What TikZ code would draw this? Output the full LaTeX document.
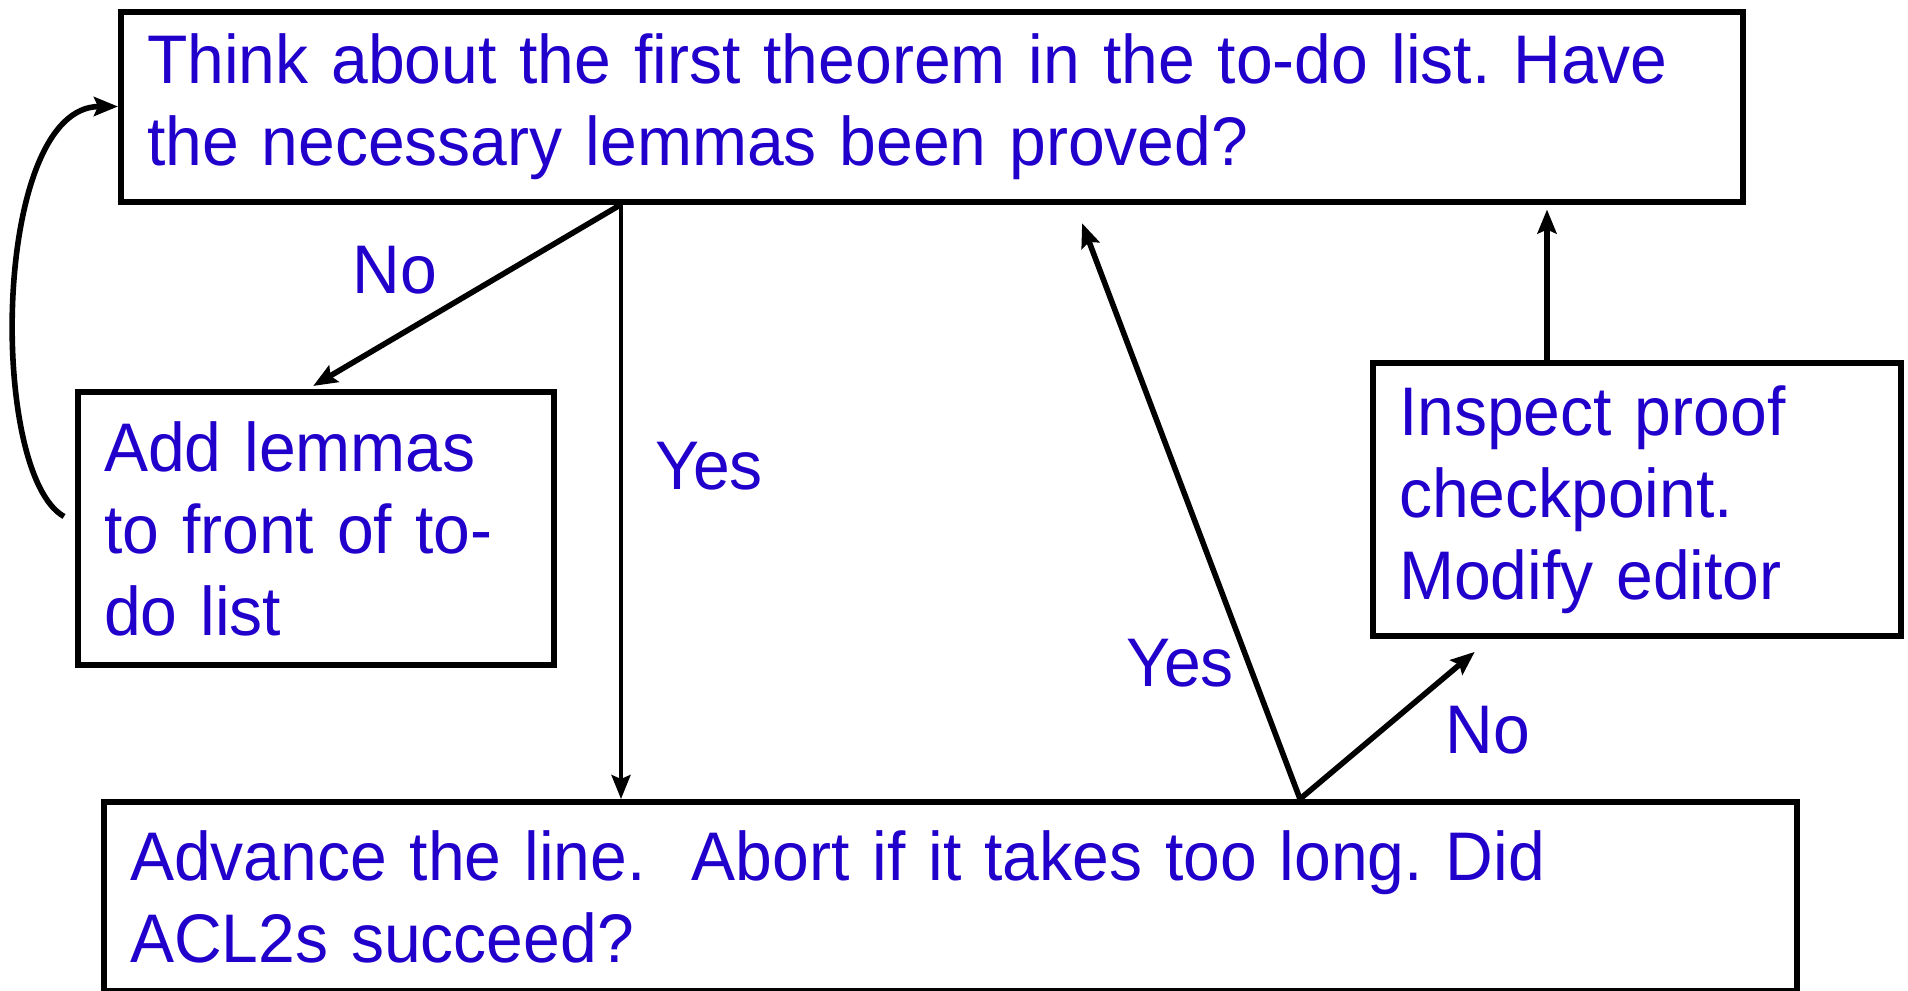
\documentclass[tikz,border=0pt]{standalone}
\usepackage{fontspec}
\setmainfont{Liberation Sans}[FakeStretch=0.96]
\usetikzlibrary{arrows.meta, positioning, calc}
\definecolor{flowblue}{RGB}{34, 0, 204}
\frenchspacing

\begin{document}
\begin{tikzpicture}[x=0.5pt, y=-0.5pt,
    stepbox/.style={rectangle, draw=black, line width=3pt,
        anchor=north west, align=left, inner xsep=13pt, inner ysep=0pt,
        font=\fontsize{34.4}{41}\selectfont, text=flowblue},
    flow/.style={-{Stealth[length=12pt, width=9.5pt, inset=2pt]}, line width=2.8pt},
    answer/.style={font=\fontsize{34.4}{41}\selectfont, text=flowblue},
]

\useasboundingbox (0,0) rectangle (1908,991);

% ── BOXES (placed by their top-left corners, in pixels) ─────────────────────
\node[stepbox, text width=785pt, minimum height=95pt] at (118, 8.5) (think)
    {Think about the first theorem in the to-do list. Have\\the necessary lemmas been proved?};
\node[stepbox, text width=212pt, minimum height=136.5pt] at (75, 389) (lemmas)
    {Add lemmas\\to front of to-\\do list};
\node[stepbox, text width=238pt, minimum height=136.5pt] at (1370, 360) (inspect)
    {Inspect proof\\checkpoint.\\Modify editor};
\node[stepbox, text width=820.5pt, minimum height=94.5pt] at (101, 799) (advance)
    {Advance the line.\ \ Abort if it takes too long. Did\\ACL2s succeed?};

% ── CONNECTORS ──────────────────────────────────────────────────────────────
\coordinate (fork)      at ([xshift=251.5pt]think.south west);
\coordinate (loopstart) at ([xshift=-5.5pt, yshift=6pt]lemmas.west);
\coordinate (split)     at ([xshift=599.5pt]advance.north west);
\coordinate (retry)     at ([xshift=88.5pt]inspect.north west);

\draw[flow, line width=2pt] (fork) -- ([xshift=260pt]advance.north west);
\draw[flow, shorten >=3pt] (fork) -- ([xshift=116.5pt]lemmas.north west);
\draw[flow] (loopstart) .. controls +(-38pt,21.5pt) and +(-63pt,0pt) .. (think.west);
\draw[flow, shorten >=10pt] (split) -- ([xshift=478.5pt]think.south west);
\draw[flow, shorten >=10pt] (split) -- ([xshift=60pt]inspect.south west);
\draw[flow, shorten >=2.5pt] (retry) -- (retry |- think.south);

% ── ANSWER LABELS ───────────────────────────────────────────────────────────
\node[answer] at (395, 270)  (nolemmas) {No};
\node[answer] at (709, 466)  (yesready) {Yes};
\node[answer] at (1180, 663) (yesdone)  {Yes};
\node[answer] at (1488, 730) (nofail)   {No};

\end{tikzpicture}
\end{document}
